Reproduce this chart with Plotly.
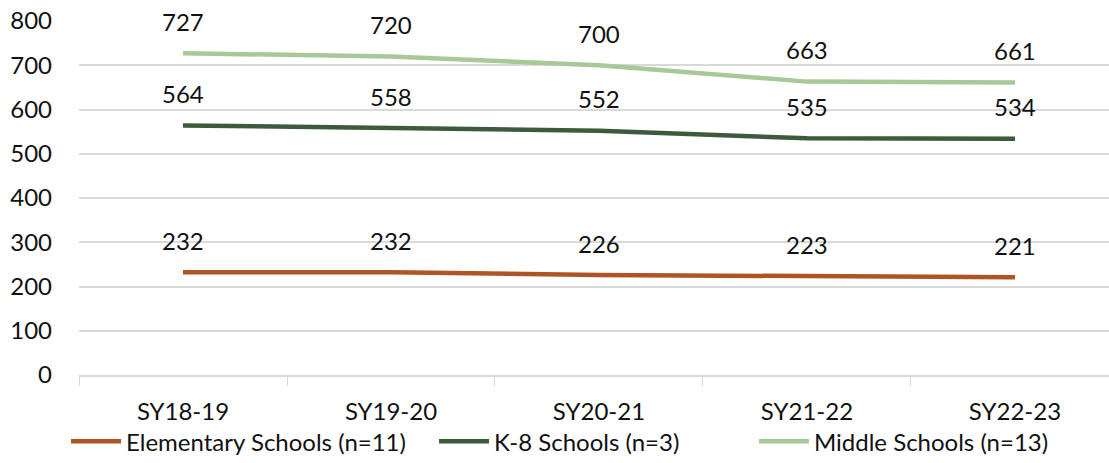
import plotly.graph_objects as go

years = ["SY18-19", "SY19-20", "SY20-21", "SY21-22", "SY22-23"]
elementary = [232, 232, 226, 223, 221]
k8 = [564, 558, 552, 535, 534]
middle = [727, 720, 700, 663, 661]

series = [
    ("Elementary Schools (n=11)", elementary, "#b05425"),
    ("K-8 Schools (n=3)", k8, "#3e5a3c"),
    ("Middle Schools (n=13)", middle, "#a8c898"),
]

FONT = "Source Sans Pro, Lato, Noto Sans, sans-serif"
legend_names = ["legend", "legend2", "legend3"]
legend_x = [-0.0126, 0.3447, 0.6553]

fig = go.Figure()
annotations = []
for (name, vals, color), lg in zip(series, legend_names):
    fig.add_trace(go.Scatter(x=years, y=vals, name=name, mode="lines", legend=lg,
                             line=dict(color=color, width=4.5)))
    for xv, yv in zip(years, vals):
        annotations.append(dict(x=xv, y=yv, text=str(yv), showarrow=False,
                                yshift=32, font=dict(size=24, color="#111", family=FONT)))

legend_common = dict(orientation="h", xanchor="left", y=-0.125, yanchor="top",
                     font=dict(size=24), itemwidth=50, bgcolor="rgba(0,0,0,0)")

fig.update_layout(
    width=1109, height=463,
    margin=dict(l=79, r=0, t=21, b=88, autoexpand=False),
    paper_bgcolor="white", plot_bgcolor="white",
    font=dict(family=FONT, size=24, color="#111"),
    annotations=annotations,
    showlegend=True,
    legend=dict(x=legend_x[0], **legend_common),
    legend2=dict(x=legend_x[1], **legend_common),
    legend3=dict(x=legend_x[2], **legend_common),
    xaxis=dict(type="category", range=[-0.5, 4.452], tickson="boundaries",
               ticks="outside", ticklen=9, tickcolor="#d9d9d9", showgrid=False,
               showline=True, linecolor="#d9d9d9", linewidth=1.5,
               ticklabelstandoff=14),
    yaxis=dict(range=[0, 800], dtick=100, tick0=0, showgrid=True, gridcolor="#d9d9d9",
               gridwidth=1.5, zeroline=False, showline=False, ticks="",
               ticklabelstandoff=26),
)
fig.write_html("out.html", config={"displayModeBar": False},
               post_script="document.body.style.margin='0';document.body.style.overflow='hidden';")
